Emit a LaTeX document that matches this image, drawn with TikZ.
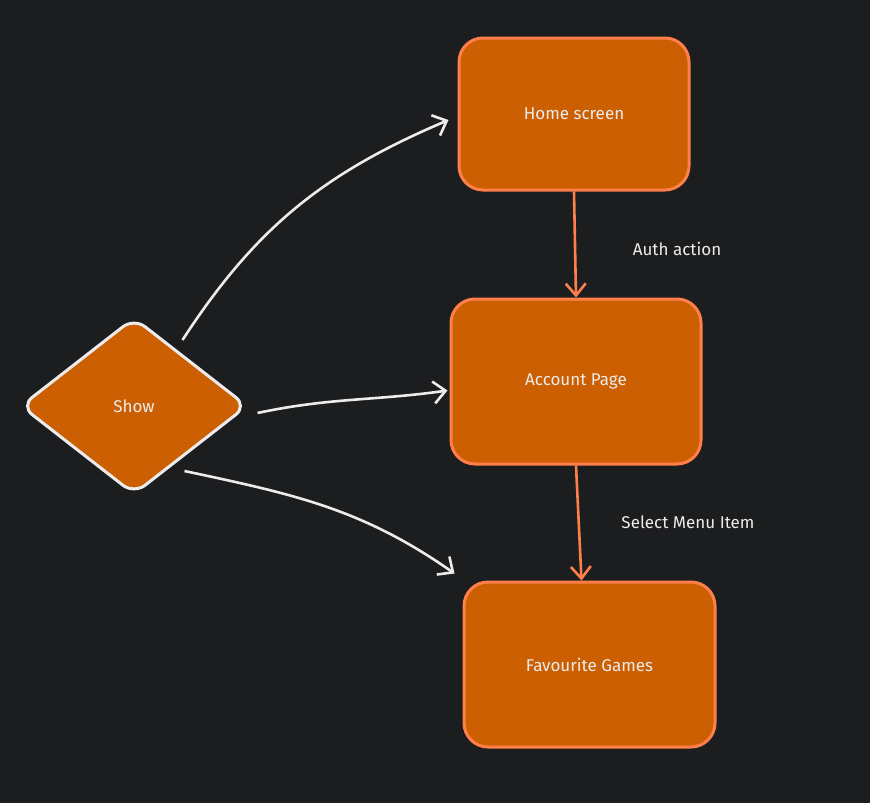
\documentclass[tikz,border=0pt]{standalone}
\usepackage{fontspec}
\setmainfont{Fira Sans}
\usetikzlibrary{shapes.geometric,arrows.meta}
\definecolor{bgdark}{HTML}{1C1D1F}
\definecolor{boxfill}{HTML}{CC5F02}
\definecolor{boxline}{HTML}{FF7F4A}
\definecolor{inkwhite}{HTML}{ECECEC}
\tikzset{
  screen/.style={draw=boxline, fill=boxfill, line width=3pt, rounded corners=24pt,
    text=inkwhite, font=\fontsize{17}{19}\selectfont},
  choice/.style={diamond, draw=inkwhite, fill=boxfill, line width=3pt, rounded corners=14pt,
    minimum width=227pt, minimum height=177pt, inner sep=0pt,
    text=inkwhite, font=\fontsize{17}{19}\selectfont},
  flow/.style={draw=boxline, line width=2.6pt, -{Straight Barb[length=12pt,width=20pt,line width=2.6pt]}},
  link/.style={draw=inkwhite, line width=2.6pt, -{Straight Barb[length=12pt,width=22pt,line width=2.6pt]}},
  note/.style={text=inkwhite, font=\fontsize{17}{19}\selectfont}
}
\begin{document}
\begin{tikzpicture}[x=1pt,y=-1pt]
  \fill[bgdark] (0,0) rectangle (870,803);
  \useasboundingbox (0,0) rectangle (870,803);

  \node[screen, minimum width=230pt, minimum height=152pt] (home) at (574,114) {Home screen};
  \node[screen, minimum width=250pt, minimum height=165pt] (acct) at (576,381.5) {Account Page};
  \node[screen, minimum width=251pt, minimum height=165pt] (fav) at (589.5,664.5) {Favourite Games};
  \node[choice] (show) at (134,406) {Show};

  % orange steps
  \draw[flow] (home.south) -- (acct.north);
  \draw[flow] (acct.south) -- ([xshift=-8pt]fav.north);
  \node[note] at (677,249) {Auth action};
  \node[note] at (688,522) {Select Menu Item};

  % white links out of the diamond
  \draw[link] ([shift={(-9,-21)}]show.north east) to[out=57,in=203] ([shift={(-9,6)}]home.west);
  \draw[link] ([shift={(8.5,7)}]show.east) to[out=12,in=188] ([shift={(-2,9)}]acct.west);
  \draw[link] ([shift={(-7,20)}]show.south east) to[out=-12,in=145] ([shift={(-8,-7)}]fav.north west);
\end{tikzpicture}
\end{document}
